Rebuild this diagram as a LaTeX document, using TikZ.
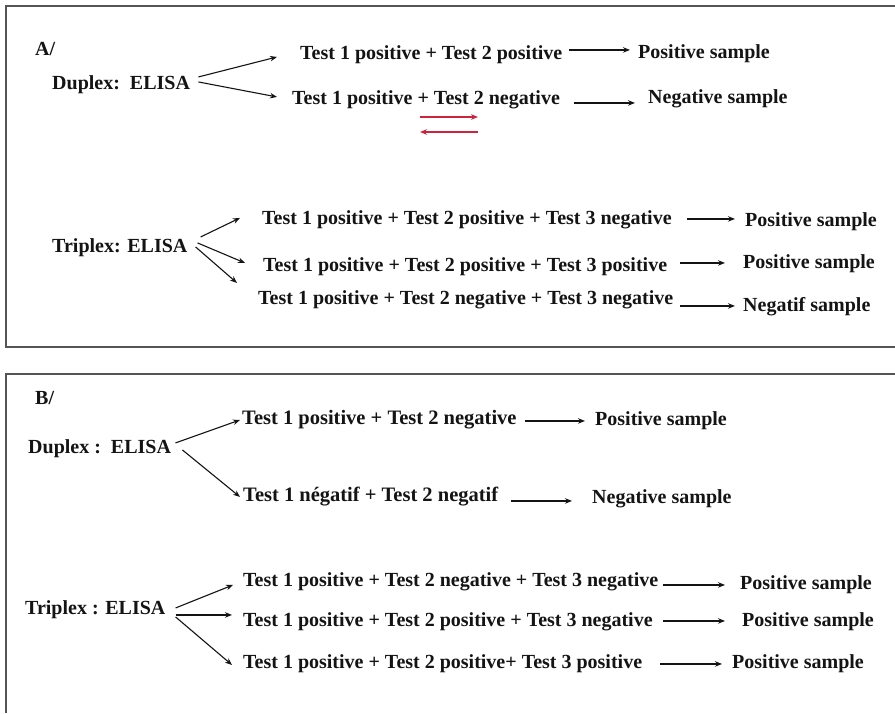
\documentclass[tikz,border=0pt]{standalone}
\usepackage{fontspec}
\setmainfont{Liberation Serif}
\usetikzlibrary{arrows.meta}
\definecolor{boxgray}{RGB}{85,85,85}
\definecolor{ink}{RGB}{20,20,20}
\definecolor{redarr}{RGB}{205,35,60}
\tikzset{
  txt/.style={font=\bfseries\fontsize{20}{24}\selectfont, text=ink, inner sep=0pt, anchor=base west, text height=13.5pt, text depth=4.4pt},
  txtw/.style={txt, font=\bfseries\fontsize{20.5}{24}\selectfont},
  arr/.style={-{Stealth[length=7pt,width=5.5pt]}, line width=1.1pt, draw=ink},
  redarrow/.style={-{Stealth[length=7pt,width=5.5pt]}, line width=1.3pt, draw=redarr},
  boxline/.style={line width=1.8pt, draw=boxgray}
}
\begin{document}
\begin{tikzpicture}[x=1pt,y=-1pt]
\useasboundingbox (0,0) rectangle (895,713);
\fill[white] (0,0) rectangle (895,713);
% frames
\draw[boxline] (895,6) -- (6,6) -- (6,347) -- (895,347);
\draw[boxline] (895,374) -- (6,374) -- (6,713);

% ---------- A ----------
\node[txt] (labA) at (35,55) {A/};
\node[txt] (dA) at (52,89) {Duplex:\ \ ELISA};
\node[txt] (a1) at (300,59.5) {Test 1 positive + Test 2 positive};
\node[txt] (ap1) at (638,58.5) {Positive sample};
\node[txt] (a2) at (292,104) {Test 1 positive + Test 2 negative};
\node[txt] (an2) at (648,103.5) {Negative sample};

\draw[arr] ([shift={(8.2,-7.5)}]dA.east) -- ([shift={(-23,2)}]a1.west);
\draw[arr] ([shift={(8.2,-2.5)}]dA.east) -- ([shift={(-15,-2.5)}]a2.west);
\draw[arr] ([shift={(6.2,-5)}]a1.east) -- ([shift={(-8,-4)}]ap1.west);
\draw[arr] ([shift={(13.6,3.5)}]a2.east) -- ([shift={(-13,4)}]an2.west);

\coordinate (rA1) at (420,117);
\coordinate (rA2) at (478,117);
\coordinate (rB1) at (478,132);
\coordinate (rB2) at (420,132);
\draw[redarrow] (rA1) -- (rA2);
\draw[redarrow] (rB1) -- (rB2);

\node[txt] (tA) at (52,252) {Triplex: ELISA};
\node[txt] (t1) at (262,224) {Test 1 positive + Test 2 positive + Test 3 negative};
\node[txt] (tp1) at (745,226) {Positive sample};
\node[txt] (t2) at (263,271) {Test 1 positive + Test 2 positive + Test 3 positive};
\node[txt] (tp2) at (743,268) {Positive sample};
\node[txt] (t3) at (258,304.5) {Test 1 positive + Test 2 negative + Test 3 negative};
\node[txt] (tn3) at (743,311) {Negatif sample};

\draw[arr] ([shift={(13,-10.5)}]tA.east) -- ([shift={(-22,-1.5)}]t1.west);
\draw[arr] ([shift={(10,-4.5)}]tA.east) -- ([shift={(-18,-3.5)}]t2.west);
\draw[arr] ([shift={(8,-0.5)}]tA.east) -- ([shift={(-21,-17)}]t3.west);
\draw[arr] ([shift={(15,-0.5)}]t1.east) -- ([shift={(-10,-2.5)}]tp1.west);
\draw[arr] ([shift={(12.5,-3.5)}]t2.east) -- ([shift={(-18,-0.5)}]tp2.west);
\draw[arr] ([shift={(6.5,6)}]t3.east) -- ([shift={(-8,-0.5)}]tn3.west);

% ---------- B ----------
\node[txt] (labB) at (35,404) {B/};
\node[txt] (dB) at (28,453.5) {Duplex :\ \ ELISA};
\node[txtw] (b1) at (242,424.5) {Test 1 positive + Test 2 negative};
\node[txt] (bp1) at (595,425.5) {Positive sample};
\node[txtw] (b2) at (243,501) {Test 1 négatif + Test 2 negatif};
\node[txt] (bn2) at (592,503) {Negative sample};

\draw[arr] ([shift={(4.2,-6)}]dB.east) -- ([shift={(-2,0)}]b1.west);
\draw[arr] ([shift={(11.2,1)}]dB.east) -- ([shift={(-3,0.5)}]b2.west);
\draw[arr] ([shift={(7.8,1)}]b1.east) -- ([shift={(-10,0)}]bp1.west);
\draw[arr] ([shift={(12.2,4.5)}]b2.east) -- ([shift={(-20,2.5)}]bn2.west);

\node[txt] (tB) at (25,614.5) {Triplex : ELISA};
\node[txt] (c1) at (243,586) {Test 1 positive + Test 2 negative + Test 3 negative};
\node[txt] (cp1) at (740,589) {Positive sample};
\node[txt] (c2) at (243,626) {Test 1 positive + Test 2 positive + Test 3 negative};
\node[txt] (cp2) at (742,626) {Positive sample};
\node[txt] (c3) at (243,668) {Test 1 positive + Test 2 positive+ Test 3 positive};
\node[txt] (cp3) at (732,668) {Positive sample};

\draw[arr] ([shift={(10,-2)}]tB.east) -- ([shift={(-10,3.5)}]c1.west);
\draw[arr] ([shift={(10,5)}]tB.east) -- ([shift={(-11,-6.5)}]c2.west);
\draw[arr] ([shift={(10,7)}]tB.east) -- ([shift={(-11,1.5)}]c3.west);
\draw[arr] ([shift={(4.5,3.5)}]c1.east) -- ([shift={(-15,0.5)}]cp1.west);
\draw[arr] ([shift={(10,-0.5)}]c2.east) -- ([shift={(-17,-0.5)}]cp2.west);
\draw[arr] ([shift={(17.5,0.5)}]c3.east) -- ([shift={(-10,0.5)}]cp3.west);
\end{tikzpicture}
\end{document}
